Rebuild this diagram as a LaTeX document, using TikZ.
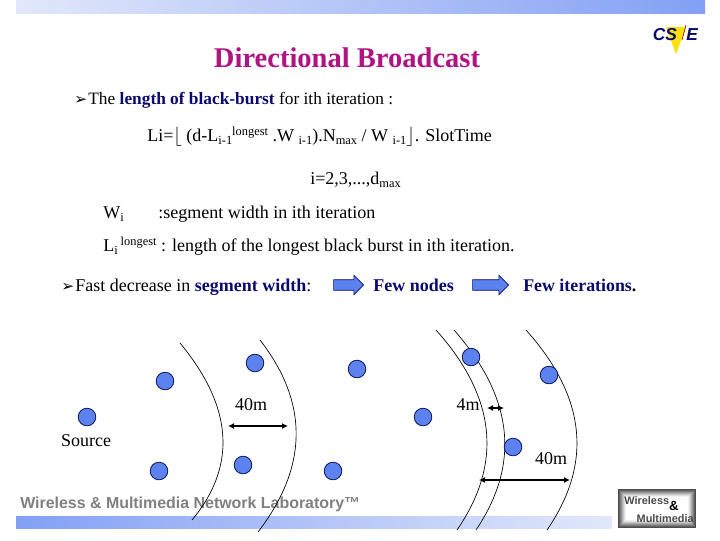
\documentclass[tikz,border=0pt]{standalone}
\usepackage{fontspec}
\setmainfont{Liberation Serif}
\newfontfamily\hvfont{Liberation Sans}
\newfontfamily\djfont{DejaVu Sans}
\usetikzlibrary{shapes.arrows,arrows.meta}
\definecolor{navy}{RGB}{10,10,110}
\definecolor{titlec}{RGB}{176,20,130}
\definecolor{dotc}{RGB}{92,130,240}
\definecolor{dotl}{RGB}{10,20,90}
\definecolor{barl}{RGB}{226,232,250}
\definecolor{bard}{RGB}{130,160,245}
\tikzset{
  txt/.style={inner sep=0pt,anchor=base west,font=\fontsize{13.5pt}{15pt}\selectfont},
  lab/.style={inner sep=0pt,anchor=base,font=\fontsize{13.5pt}{15pt}\selectfont},
  dotn/.style={circle,draw=dotl,fill=dotc,line width=0.6pt,minimum size=13.2pt,inner sep=0pt},
  wave/.style={line width=0.5pt,black},
  dim/.style={line width=0.9pt,{Latex[length=4.5pt,width=4.5pt]}-{Latex[length=4.5pt,width=4.5pt]}},
  block/.style={single arrow,draw=navy,fill=dotc,line width=0.5pt,inner sep=3.7pt,single arrow head extend=3.4pt,single arrow head indent=0pt},
}
\newcommand{\bul}{\makebox[10.6pt][l]{\djfont\fontsize{11.5pt}{12pt}\selectfont ➢}}
\newcommand{\sbs}[1]{\raisebox{-2.8pt}{\fontsize{9.3pt}{10pt}\selectfont #1}}
\newcommand{\sps}[1]{\raisebox{4.4pt}{\fontsize{9.3pt}{10pt}\selectfont #1}}
\begin{document}
\begin{tikzpicture}[x=0.75pt,y=-0.75pt]
\useasboundingbox (0,0) rectangle (720,540);
\fill[white] (0,0) rectangle (720,540);
% bars
\shade[left color=barl,right color=bard] (16,0) rectangle (705,13);
\shade[left color=bard,right color=barl] (16,516) rectangle (612,528);
% title
\node[inner sep=0pt,anchor=base,text=titlec,font=\fontsize{21.4pt}{25pt}\selectfont\bfseries] (title) at (347,67) {Directional Broadcast};
% text
\node[txt,font=\fontsize{13pt}{15pt}\selectfont] (l1) at (74,104) {\bul The \textcolor{navy}{\textbf{length of black-burst}} for ith iteration :};
\node[txt] (l2) at (147,141) {Li=$\lfloor$ (d-L\sbs{i-1}\sps{longest} .W \sbs{i-1}).N\sbs{max} / W \sbs{i-1}$\rfloor$. SlotTime};
\node[txt] (l3) at (310,184) {i=2,3,...,d\sbs{max}};
\node[txt] (l4a) at (103,218) {W\sbs{i}};
\node[txt] (l4b) at (158,218) {:segment width in ith iteration};
\node[txt] (l5) at (103,251) {L\sbs{i}\,\sps{longest} : length of the longest black burst in ith iteration.};
\node[txt] (l6) at (61,291) {\bul Fast decrease in \textcolor{navy}{\textbf{segment width}}:};
\node[txt,text=navy,font=\fontsize{13.5pt}{15pt}\selectfont\bfseries] (fn) at (373,291) {Few nodes};
\node[txt,font=\fontsize{13.4pt}{15pt}\selectfont\bfseries] (fi) at (523,291) {\textcolor{navy}{Few iterations}.};
\node[block,minimum height=22.5pt] (a1) at (346,285) {};
\node[block,minimum height=27pt] (a2) at (488,285) {};
% footer text
\node[inner sep=0pt,anchor=base west,text=black!50,font=\hvfont\bfseries\fontsize{11.95pt}{14pt}\selectfont] (ft) at (20,508.5) {Wireless \& Multimedia Network Laboratory™};
% wave fronts
\coordinate (w1a) at (180,343); \coordinate (w1b) at (192,520);
\coordinate (w2a) at (260,340); \coordinate (w2b) at (258,532);
\coordinate (w3a) at (436,330); \coordinate (w3b) at (457,530);
\coordinate (w4a) at (454,330); \coordinate (w4b) at (476,530);
\coordinate (w5a) at (526,330); \coordinate (w5b) at (547,530);
\draw[wave] (w1a) .. controls (233,407) and (237,466) .. (w1b);
\draw[wave] (w2a) .. controls (309,403) and (308,467) .. (w2b);
\draw[wave] (w3a) .. controls (496,397) and (503,463) .. (w3b);
\draw[wave] (w4a) .. controls (513,397) and (521,463) .. (w4b);
\draw[wave] (w5a) .. controls (586,397) and (593,463) .. (w5b);
% nodes
\node[dotn] (src) at (87,417) {};
\node[dotn] (n1) at (165,381) {};
\node[dotn] (n2) at (159,471) {};
\node[dotn] (n3) at (255,363) {};
\node[dotn] (n4) at (243,465) {};
\node[dotn] (n5) at (357,369) {};
\node[dotn] (n6) at (333,471) {};
\node[dotn] (n7) at (471,357) {};
\node[dotn] (n8) at (549,375) {};
\node[dotn] (n9) at (423,417) {};
\node[dotn] (n10) at (513,447) {};
% dimension labels
\node[lab] (s) at (86,446) {Source};
\node[lab] (d1) at (251,410) {40m};
\node[lab] (d2) at (468,410) {4m};
\node[lab] (d3) at (551,464) {40m};
\coordinate (p1) at (228,426); \coordinate (p2) at (288,426);
\coordinate (p3) at (487,408); \coordinate (p4) at (504,408);
\coordinate (p5) at (479,480); \coordinate (p6) at (570,480);
\draw[dim] (p1) -- (p2);
\draw[dim] (p3) -- (p4);
\draw[dim] (p5) -- (p6);
% CSIE logo
\fill[yellow!85!orange] (666,27) -- (686,27) -- (676,54) -- cycle;
\node[inner sep=0pt,anchor=base west,text=navy,font=\hvfont\bfseries\itshape\fontsize{13pt}{14pt}\selectfont] (cs) at (652.5,40) {CS};
\node[inner sep=0pt,anchor=base west,text=navy,font=\hvfont\bfseries\itshape\fontsize{13pt}{14pt}\selectfont] (e) at (686,40) {E};
\draw[red!70!black,line width=0.5pt] (682,40) -- (686,25);
% Wireless logo
\fill[black!70] (618,489) rectangle (696,528);
\foreach \i/\g in {1/62,2/52,3/42,4/32,5/22,6/12,7/5,8/0}
  \fill[black!\g] (618+\i,489+\i) rectangle (696-\i,528-\i);
\node[inner sep=0pt,anchor=base west,text=black!70,font=\hvfont\bfseries\fontsize{8.2pt}{9pt}\selectfont] (w1) at (624,504) {Wireless};
\node[inner sep=0pt,anchor=base,text=black,font=\hvfont\bfseries\fontsize{10pt}{10pt}\selectfont] (w2) at (674,510) {\&};
\node[inner sep=0pt,anchor=base east,text=black!70,font=\hvfont\bfseries\fontsize{8.2pt}{9pt}\selectfont] (w3) at (694,522) {Multimedia};
\end{tikzpicture}
\end{document}
